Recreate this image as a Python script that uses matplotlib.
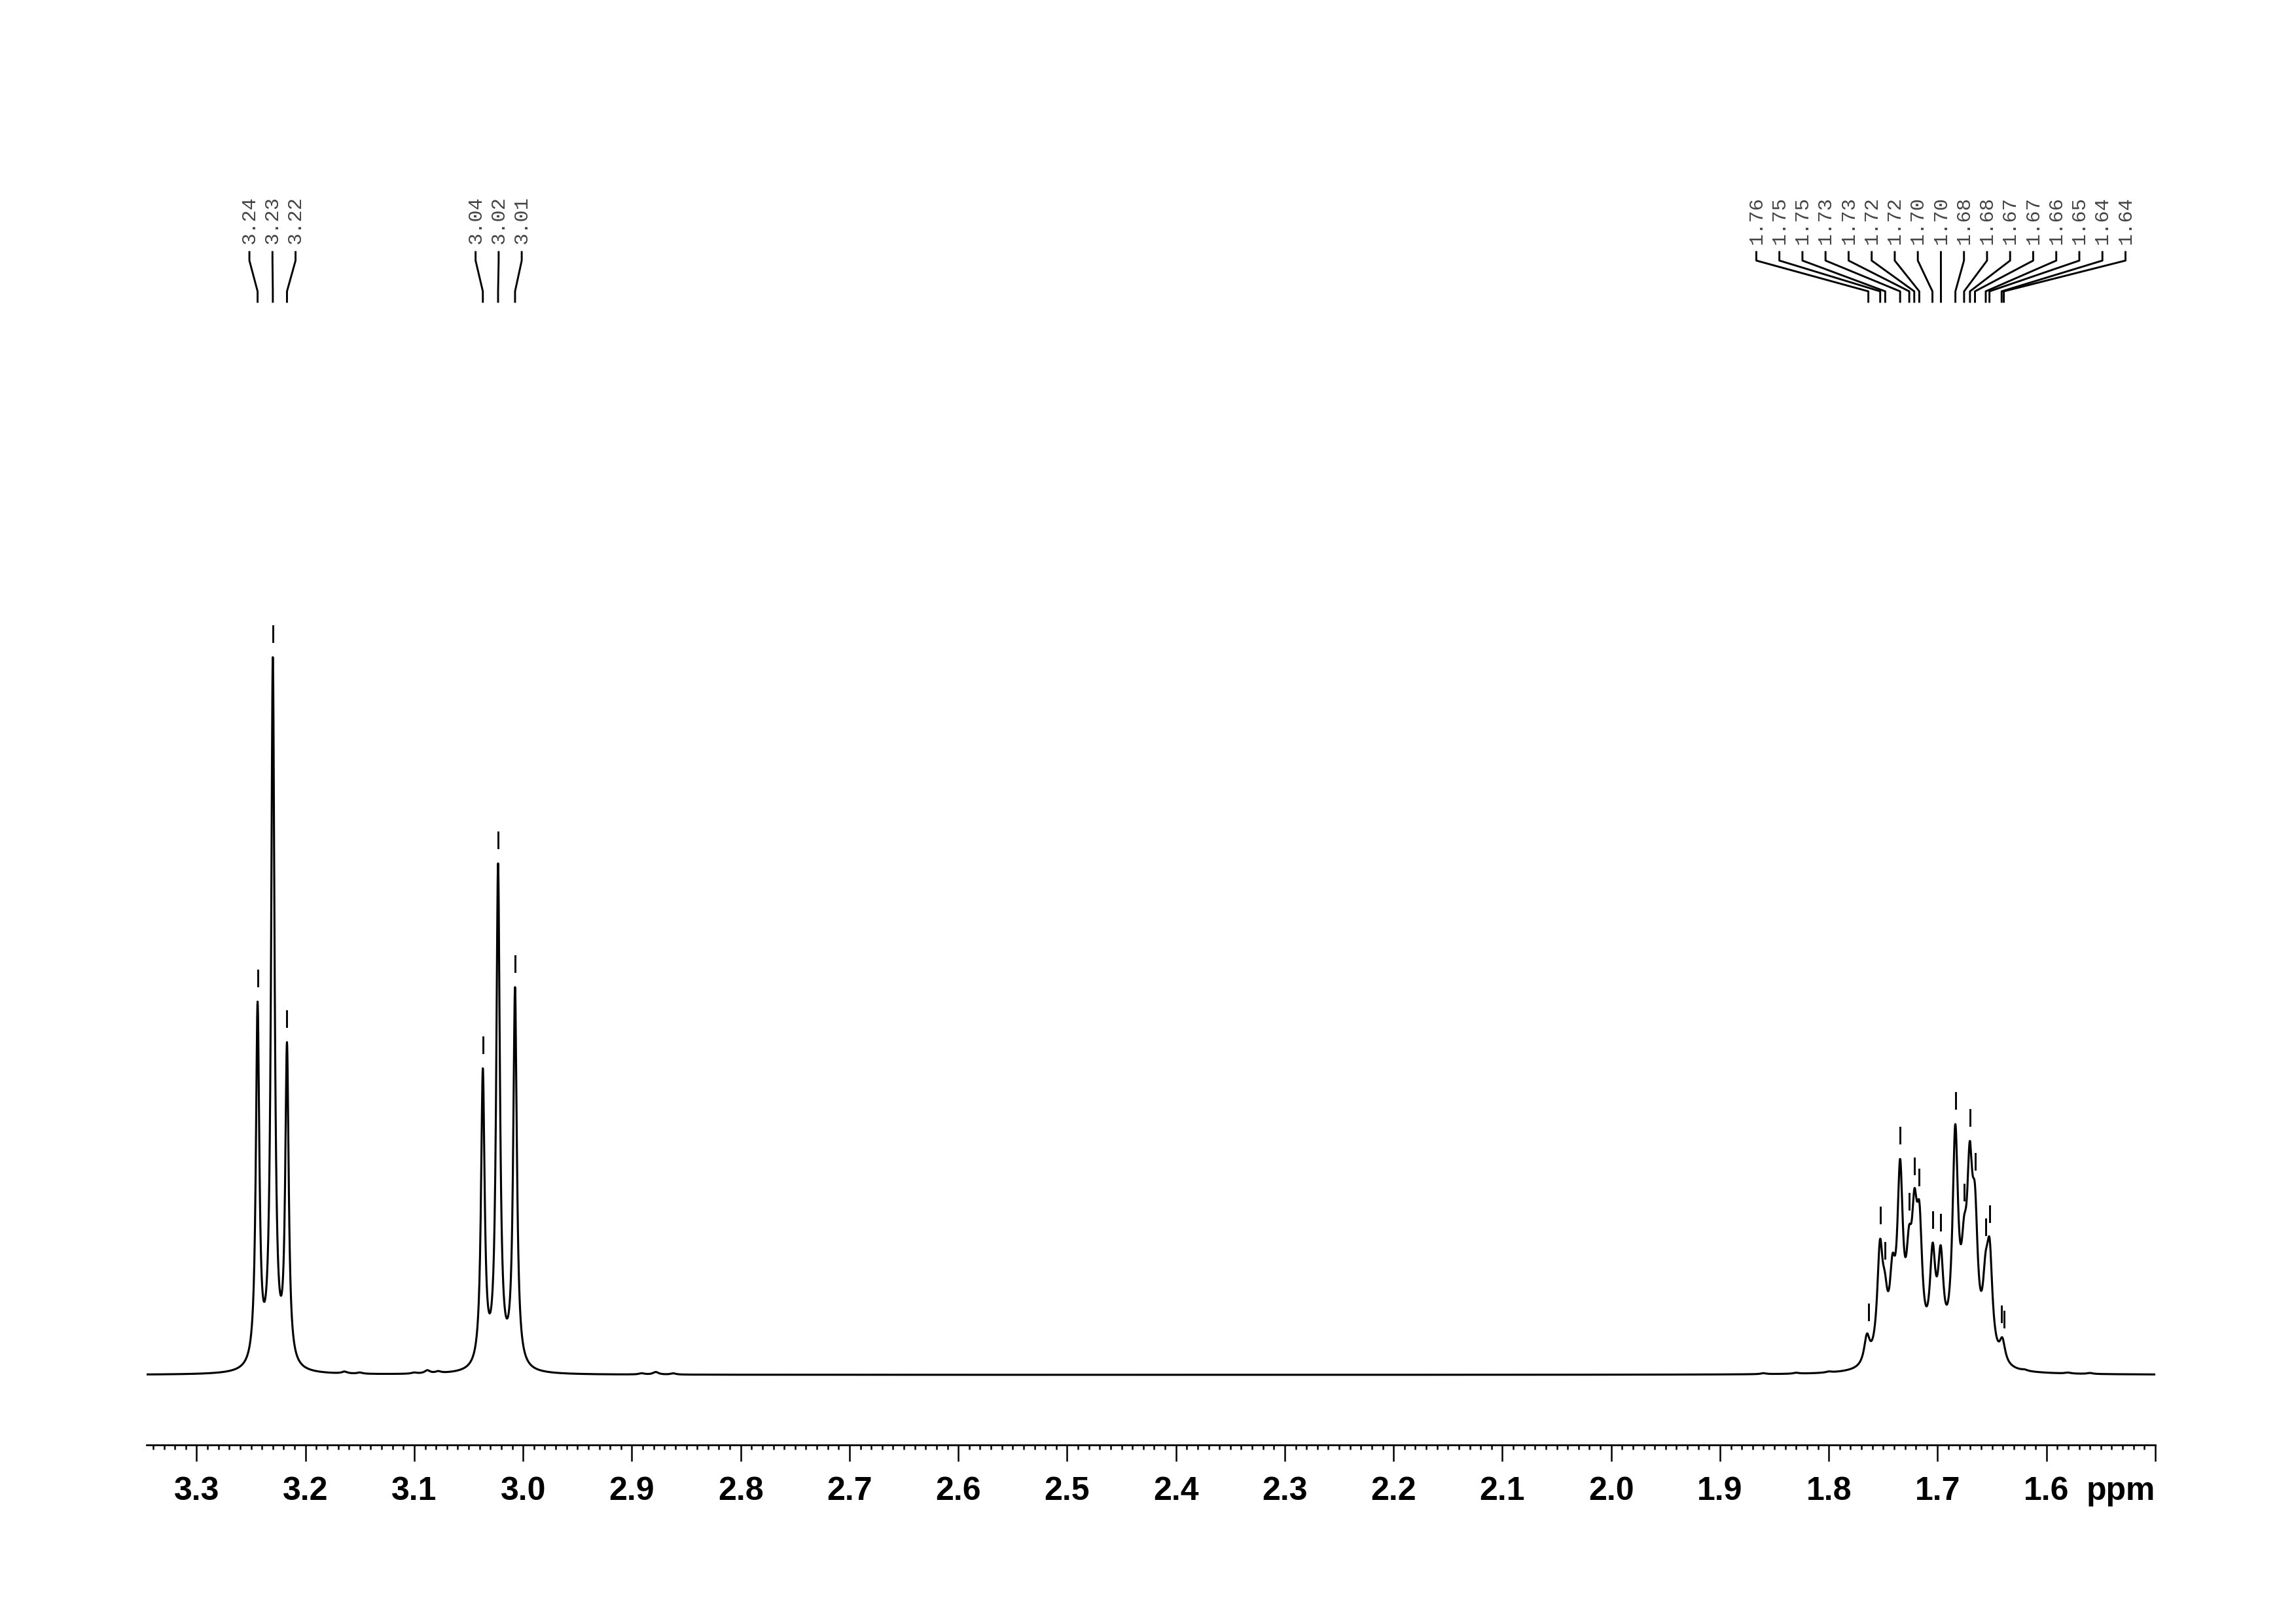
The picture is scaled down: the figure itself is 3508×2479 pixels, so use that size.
import numpy as np
import matplotlib
matplotlib.use("Agg")
import matplotlib.pyplot as plt
from matplotlib.ticker import FixedLocator, MultipleLocator

t1_ppm = [3.2440, 3.2300, 3.2170]
t1_height = [570, 1096, 508]
t2_ppm = [3.0370, 3.0230, 3.0074]
t2_height = [468, 781, 592]

m_ppm = [1.7650, 1.7530, 1.7485, 1.7415, 1.7345, 1.7263, 1.7213, 1.7167,
         1.7046, 1.6972, 1.6838, 1.6757, 1.6705, 1.6657, 1.6560, 1.6522, 1.6405]
m_height = [63, 207, 157, 185, 330, 228, 285, 263,
            202, 198, 383, 243, 357, 290, 187, 208, 57]

small_ppm = [3.164, 3.150, 3.100, 3.088, 3.078, 2.891, 2.878, 2.862,
             1.860, 1.830, 1.800, 1.620, 1.580, 1.560]
small_height = [3, 2, 2, 5, 3, 2, 4, 2, 1.5, 1.5, 1.5, 1.5, 1.5, 1.5]

# peak picking labels
g1_mark = [3.2440, 3.2300, 3.2170]
g1_labels = ["3.24", "3.23", "3.22"]
g2_mark = [3.0370, 3.0230, 3.0074]
g2_labels = ["3.04", "3.02", "3.01"]
g3_mark = [1.7637, 1.7528, 1.7482, 1.7345, 1.7261, 1.7215, 1.7169, 1.7048, 1.6970,
           1.6837, 1.6757, 1.6703, 1.6657, 1.6558, 1.6524, 1.6412, 1.6392]
g3_labels = ["1.76", "1.75", "1.75", "1.73", "1.73", "1.72", "1.72", "1.70", "1.70",
             "1.68", "1.68", "1.67", "1.67", "1.66", "1.65", "1.64", "1.64"]

major_ticks = [3.3, 3.2, 3.1, 3.0, 2.9, 2.8, 2.7, 2.6, 2.5, 2.4, 2.3, 2.2, 2.1, 2.0,
               1.9, 1.8, 1.7, 1.6, 1.5]
major_labels = ["3.3", "3.2", "3.1", "3.0", "2.9", "2.8", "2.7", "2.6", "2.5", "2.4",
                "2.3", "2.2", "2.1", "2.0", "1.9", "1.8", "1.7", "1.6", "ppm"]

x_left, x_right = 3.346, 1.5


def lor(x, c, g):
    return 1.0 / (1.0 + ((x - c) / g) ** 2)


def amplitudes(pos, height, g):
    # amplitudes so that the summed lines hit the observed heights
    pos = np.array(pos)
    M = lor(pos[:, None], pos[None, :], g)
    return np.linalg.solve(M, np.array(height, dtype=float))


x = np.arange(x_right, x_left, 0.0002)
y = np.zeros_like(x)
for pos, h, g in [(t1_ppm, t1_height, 0.0019), (t2_ppm, t2_height, 0.0020),
                  (m_ppm, m_height, 0.0031), (small_ppm, small_height, 0.003)]:
    amps = amplitudes(pos, h, g)
    for c, a in zip(pos, amps):
        y += a * lor(x, c, g)

fig = plt.figure(figsize=(3508 / 300, 2479 / 300), dpi=300)
ax = fig.add_axes([224 / 3508, 1 - 2207 / 2479, (3293 - 224) / 3508, (2207 - 250) / 2479])
ax.plot(x, y, color="black", lw=0.75)
ax.set_xlim(x_left, x_right)
ax.set_ylim(-107, 1850)

for s in ["top", "left", "right"]:
    ax.spines[s].set_visible(False)
ax.spines["bottom"].set_linewidth(0.65)
ax.yaxis.set_visible(False)
ax.xaxis.set_major_locator(FixedLocator(major_ticks))
ax.xaxis.set_minor_locator(MultipleLocator(0.01))
ax.set_xticklabels(major_labels, fontsize=12, fontweight="bold", family="Liberation Sans")
ax.get_xticklabels()[-1].set_horizontalalignment("right")
ax.tick_params(axis="x", which="major", length=6, width=0.6, pad=5.5)
ax.tick_params(axis="x", which="minor", length=1.7, width=0.6)

spacing = 35.2 / 1660  # label spacing in ppm
for marks, labels in [(g1_mark, g1_labels), (g2_mark, g2_labels), (g3_mark, g3_labels)]:
    n = len(marks)
    center = np.mean(marks)
    for i, (m, lab) in enumerate(zip(marks, labels)):
        lx = center + (n - 1) / 2 * spacing - i * spacing
        yv = np.interp(m, x, y)
        ax.plot([m, m], [yv + 24, yv + 48], color="black", lw=0.7)
        ax.plot([lx, lx, m, m], [1715, 1702, 1655, 1639], color="black", lw=0.7)
        ax.text(lx, 1727, lab, rotation=90, ha="center", va="bottom",
                fontsize=7.3, family="Liberation Mono", color="#444444")

fig.savefig("out.png", dpi=300)
